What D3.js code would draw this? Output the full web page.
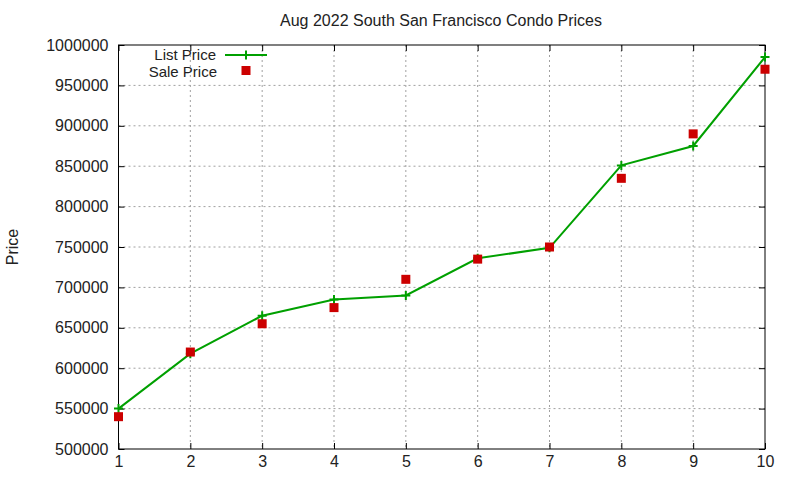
<!DOCTYPE html>
<html>
<head>
<meta charset="utf-8">
<script src="https://cdn.jsdelivr.net/npm/d3@7"></script>
<style>
  body { margin: 0; background: #fff; }
  text { font-family: "Liberation Sans", Arial, sans-serif; }
</style>
</head>
<body>
<div id="chart"></div>
<script>
// months / listing index on the x axis
const xValues = [1, 2, 3, 4, 5, 6, 7, 8, 9, 10];
const listPrice = [550000, 618000, 665000, 685000, 690000, 736000, 749000, 851000, 875000, 985000];
const salePrice = [540000, 620000, 655000, 675000, 710000, 735000, 750000, 835000, 890000, 970000];
const yTicks = [500000, 550000, 600000, 650000, 700000, 750000, 800000, 850000, 900000, 950000, 1000000];

const W = 800, H = 480;
const margin = { top: 45, right: 35, bottom: 31, left: 118.5 };
const width = W - margin.left - margin.right;
const height = H - margin.top - margin.bottom;

const svg = d3.select("#chart").append("svg")
  .attr("width", W)
  .attr("height", H);

const g = svg.append("g")
  .attr("transform", `translate(${margin.left},${margin.top})`);

const x = d3.scaleLinear().domain([1, 10]).range([0, width]);
const y = d3.scaleLinear().domain([500000, 1000000]).range([height, 0]);

// grid
g.append("g").selectAll("line").data(xValues.slice(1, -1)).join("line")
  .attr("x1", d => x(d)).attr("x2", d => x(d))
  .attr("y1", 0).attr("y2", height)
  .attr("stroke", "#a0a0a0").attr("stroke-dasharray", "2,3");
g.append("g").selectAll("line").data(yTicks.slice(1, -1)).join("line")
  .attr("x1", 0).attr("x2", width)
  .attr("y1", d => y(d)).attr("y2", d => y(d))
  .attr("stroke", "#a0a0a0").attr("stroke-dasharray", "2,3");

// axes, ticks pointing inward
const fmt = d3.format("d");
const styleAxis = sel => {
  sel.select(".domain").remove();
  sel.selectAll("line").attr("stroke", "#000");
  sel.selectAll("text").style("font-size", "16px").attr("fill", "#222");
};

g.append("g")
  .attr("transform", `translate(0,${height})`)
  .call(d3.axisBottom(x).tickValues(xValues).tickFormat(fmt).tickSize(-6).tickPadding(7))
  .call(styleAxis);
g.append("g")
  .call(d3.axisTop(x).tickValues(xValues).tickFormat("").tickSize(-6))
  .call(styleAxis);
g.append("g")
  .call(d3.axisLeft(y).tickValues(yTicks).tickFormat(fmt).tickSize(-6).tickPadding(10))
  .call(styleAxis);
g.append("g")
  .attr("transform", `translate(${width},0)`)
  .call(d3.axisRight(y).tickValues(yTicks).tickFormat("").tickSize(-6))
  .call(styleAxis);

g.append("rect")
  .attr("width", width).attr("height", height)
  .attr("fill", "none").attr("stroke", "#000").attr("stroke-width", 1);

// list price line with + markers
const line = d3.line().x((d, i) => x(xValues[i])).y(d => y(d));
g.append("path")
  .datum(listPrice)
  .attr("fill", "none")
  .attr("stroke", "#00a000")
  .attr("stroke-width", 2)
  .attr("d", line);

const plus = "M-4.5,0H4.5M0,-4.5V4.5";
g.append("g").selectAll("path").data(listPrice).join("path")
  .attr("transform", (d, i) => `translate(${x(xValues[i])},${y(d)})`)
  .attr("d", plus)
  .attr("stroke", "#00a000").attr("stroke-width", 2);

// sale price squares
g.append("g").selectAll("rect").data(salePrice).join("rect")
  .attr("x", (d, i) => x(xValues[i]) - 4.5)
  .attr("y", d => y(d) - 4.5)
  .attr("width", 9).attr("height", 9)
  .attr("fill", "#cc0000");

// legend
const leg = svg.append("g");
leg.append("text").attr("x", 216).attr("y", 60).attr("text-anchor", "end")
  .style("font-size", "15px").attr("fill", "#222").text("List Price");
leg.append("line").attr("x1", 225).attr("x2", 267).attr("y1", 55).attr("y2", 55)
  .attr("stroke", "#00a000").attr("stroke-width", 2);
leg.append("path").attr("transform", "translate(246,55)").attr("d", plus)
  .attr("stroke", "#00a000").attr("stroke-width", 2);
leg.append("text").attr("x", 217).attr("y", 77).attr("text-anchor", "end")
  .style("font-size", "15px").attr("fill", "#222").text("Sale Price");
leg.append("rect").attr("x", 241.5).attr("y", 66).attr("width", 9).attr("height", 9)
  .attr("fill", "#cc0000");

// title and axis label
svg.append("text")
  .attr("x", 441).attr("y", 26)
  .attr("text-anchor", "middle")
  .style("font-size", "16px").attr("fill", "#222")
  .text("Aug 2022 South San Francisco Condo Prices");

svg.append("text")
  .attr("transform", "translate(18,247) rotate(-90)")
  .attr("text-anchor", "middle")
  .style("font-size", "16px").attr("fill", "#222")
  .text("Price");
</script>
</body>
</html>
